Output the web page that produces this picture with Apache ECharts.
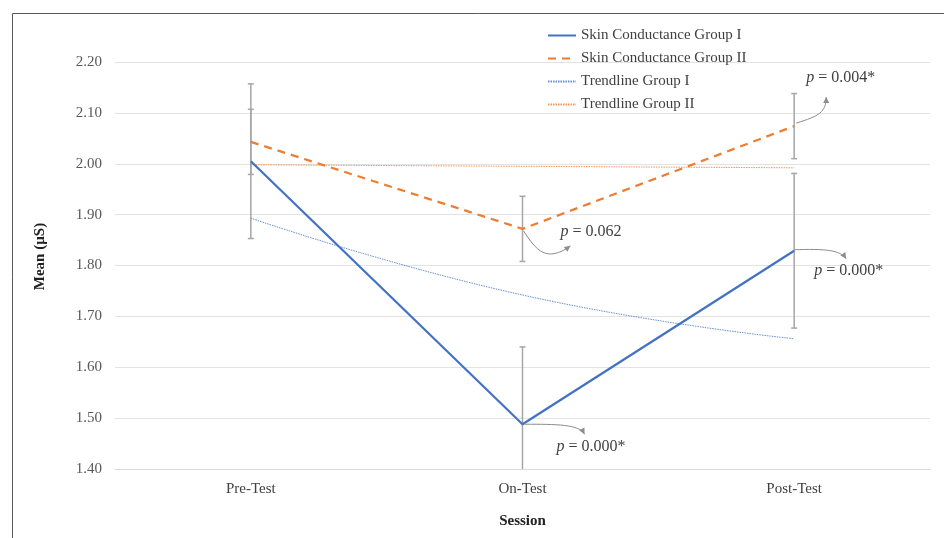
<!DOCTYPE html>
<html>
<head>
<meta charset="utf-8">
<script src="https://cdn.jsdelivr.net/npm/echarts@6/dist/echarts.min.js"></script>
<style>html,body{margin:0;padding:0;background:#fff}#c{width:944px;height:538px}</style>
</head>
<body>
<div id="c"></div>
<script>
var categories = ['Pre-Test', 'On-Test', 'Post-Test'];
var groupI = [2.005, 1.488, 1.829];
var groupII = [2.043, 1.872, 2.074];
var trendI = [1.893, 1.742, 1.656];
var trendII = [1.998, 1.995, 1.992];
var errI = [0.152, 0.152, 0.152];
var errII = [0.064, 0.064, 0.064];
var yTicks = { min: 1.4, max: 2.2, interval: 0.1 };
var annotations = [
  { series: 'II', idx: 1, text: '0.062' },
  { series: 'I', idx: 1, text: '0.000*' },
  { series: 'II', idx: 2, text: '0.004*' },
  { series: 'I', idx: 2, text: '0.000*' }
];

var FONT = '"Liberation Serif", "Times New Roman", serif';
var BLUE = '#4472c4', ORANGE = '#ed7d31';
var FS = 15;

var chart = echarts.init(document.getElementById('c'));

function errSeries(name, means, errs) {
  return {
    type: 'custom', name: name, z: 1, silent: true,
    data: means.map(function (m, i) { return [i, m - errs[i], m + errs[i]]; }),
    renderItem: function (params, api) {
      var cs = params.coordSys;
      var lo = api.coord([api.value(0), api.value(1)]);
      var hi = api.coord([api.value(0), api.value(2)]);
      var x = lo[0];
      var bottom = Math.min(lo[1], cs.y + cs.height);
      var top = Math.max(hi[1], cs.y);
      var st = { stroke: '#a6a6a6', lineWidth: 1.5 };
      var children = [{ type: 'line', shape: { x1: x, y1: top, x2: x, y2: bottom }, style: st }];
      if (hi[1] >= cs.y) children.push({ type: 'line', shape: { x1: x - 3, y1: hi[1], x2: x + 3, y2: hi[1] }, style: st });
      if (lo[1] <= cs.y + cs.height) children.push({ type: 'line', shape: { x1: x - 3, y1: lo[1], x2: x + 3, y2: lo[1] }, style: st });
      return { type: 'group', children: children };
    }
  };
}

var option = {
  animation: false,
  backgroundColor: '#fff',
  grid: { left: 115, right: 14, top: 62, bottom: 69 },
  legend: {
    orient: 'vertical', left: 542, top: 23, itemWidth: 28, itemHeight: 14, itemGap: 8,
    itemStyle: { opacity: 0 },
    data: ['Skin Conductance Group I', 'Skin Conductance Group II', 'Trendline Group I', 'Trendline Group II'],
    textStyle: { fontFamily: FONT, fontSize: FS, color: '#404040' }
  },
  xAxis: {
    type: 'category', data: categories, boundaryGap: true,
    axisLine: { show: true, lineStyle: { color: '#d9d9d9' } },
    axisTick: { show: false },
    axisLabel: { fontFamily: FONT, fontSize: FS, color: '#404040', margin: 13 },
    name: 'Session', nameLocation: 'middle', nameGap: 45,
    nameTextStyle: { fontFamily: FONT, fontSize: FS, fontWeight: 'bold', color: '#222' }
  },
  yAxis: {
    type: 'value', min: yTicks.min, max: yTicks.max, interval: yTicks.interval,
    axisLine: { show: false }, axisTick: { show: false },
    splitLine: { lineStyle: { color: '#e3e3e3', width: 1 } },
    axisLabel: { fontFamily: FONT, fontSize: FS, color: '#595959', margin: 13,
      formatter: function (v) { return v.toFixed(2); } },
    name: 'Mean (µS)', nameLocation: 'middle', nameGap: 67,
    nameTextStyle: { fontFamily: FONT, fontSize: FS, fontWeight: 'bold', color: '#222', padding: [0, 0, 0, 18] }
  },
  series: [
    errSeries('errI', groupI, errI),
    errSeries('errII', groupII, errII),
    { name: 'Skin Conductance Group I', type: 'line', data: groupI, symbol: 'none', z: 5,
      lineStyle: { color: BLUE, width: 2.25 }, itemStyle: { color: BLUE } },
    { name: 'Skin Conductance Group II', type: 'line', data: groupII, symbol: 'none', z: 5,
      lineStyle: { color: ORANGE, width: 2.25, type: [8, 6] }, itemStyle: { color: ORANGE } },
    { name: 'Trendline Group I', type: 'line', data: trendI, symbol: 'none', smooth: true, z: 4,
      lineStyle: { color: BLUE, width: 1, type: [1.5, 1], opacity: 0.8 }, itemStyle: { color: BLUE } },
    { name: 'Trendline Group II', type: 'line', data: trendII, symbol: 'none', smooth: true, z: 4,
      lineStyle: { color: ORANGE, width: 1, type: [1.5, 1], opacity: 0.8 }, itemStyle: { color: ORANGE } }
  ]
};
chart.setOption(option);

// Annotation arrows placed relative to data points
var shapes = {
  '1II': { s: [1, 2], c1: [14, 22], c2: [24, 34], e: [48, 17], t: [38, 3] },
  '1I':  { s: [2, 0], c1: [34, 0], c2: [57, 0], e: [62, 10], t: [34, 23] },
  '2II': { s: [2, -3], c1: [25, -10], c2: [32, -14], e: [32, -29], t: [12, -48] },
  '2I':  { s: [0, -1], c1: [30, -2], c2: [46, -1], e: [52, 8], t: [20, 20] }
};
var graphics = [{
  type: 'rect', silent: true,
  shape: { x: 12.5, y: 13.5, width: 940, height: 540 },
  style: { fill: null, stroke: '#595959', lineWidth: 1 }
}];
annotations.forEach(function (a) {
  var vals = a.series === 'I' ? groupI : groupII;
  var p = chart.convertToPixel({ xAxisIndex: 0, yAxisIndex: 0 }, [a.idx, vals[a.idx]]);
  var sh = shapes[a.idx + a.series];
  function pt(o) { return [p[0] + o[0], p[1] + o[1]]; }
  var s = pt(sh.s), c1 = pt(sh.c1), c2 = pt(sh.c2), e = pt(sh.e);
  graphics.push({
    type: 'bezierCurve', silent: true, z: 10,
    shape: { x1: s[0], y1: s[1], cpx1: c1[0], cpy1: c1[1], cpx2: c2[0], cpy2: c2[1], x2: e[0], y2: e[1] },
    style: { stroke: '#8c8c8c', lineWidth: 1, fill: null }
  });
  var ang = Math.atan2(e[1] - c2[1], e[0] - c2[0]);
  var L = 6, W = 3;
  var bx = e[0] - L * Math.cos(ang), by = e[1] - L * Math.sin(ang);
  graphics.push({
    type: 'polygon', silent: true, z: 10,
    shape: { points: [e, [bx + W * Math.sin(ang), by - W * Math.cos(ang)], [bx - W * Math.sin(ang), by + W * Math.cos(ang)]] },
    style: { fill: '#8c8c8c' }
  });
  var t = pt(sh.t);
  graphics.push({
    type: 'text', silent: true, z: 10, x: t[0], y: t[1],
    style: {
      text: '{i|p} = ' + a.text, verticalAlign: 'middle', align: 'left',
      rich: { i: { fontStyle: 'italic', fontFamily: FONT, fontSize: 16, fill: '#404040' } },
      font: '16px ' + FONT, fill: '#404040'
    }
  });
});
chart.setOption({ graphic: graphics });
</script>
</body>
</html>
